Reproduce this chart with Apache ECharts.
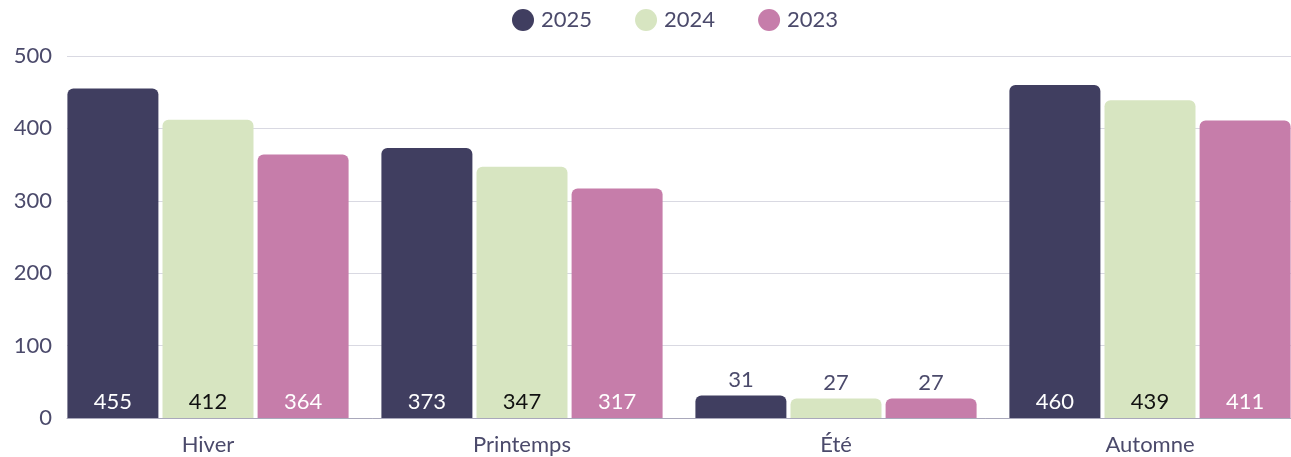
<!DOCTYPE html>
<html>
<head>
<meta charset="utf-8">
<script src="https://cdn.jsdelivr.net/npm/echarts@6/dist/echarts.min.js"></script>
<style>
  html, body { margin: 0; padding: 0; background: #fff; }
  #chart { width: 1291px; height: 457px; }
</style>
</head>
<body>
<div id="chart"></div>
<script>
var categories = ['Hiver', 'Printemps', 'Été', 'Automne'];
var years = ['2025', '2024', '2023'];
var values2025 = [455, 373, 31, 460];
var values2024 = [412, 347, 27, 439];
var values2023 = [364, 317, 27, 411];
var yTicks = [0, 100, 200, 300, 400, 500];

var colors = ['#403e60', '#d7e5c1', '#c67daa'];
var labelColors = ['#ffffff', '#111111', '#ffffff'];
var textColor = '#4b4a6b';
var font = 'Lato, "Noto Sans", sans-serif';

// petites barres : étiquette au-dessus, sinon à l'intérieur en bas
function buildData(values, idx) {
  return values.map(function (v) {
    if (v < 100) {
      return { value: v, label: { position: 'top', distance: 5, color: textColor } };
    }
    return { value: v, label: { position: 'insideBottom', distance: 5, color: labelColors[idx] } };
  });
}

var seriesValues = [values2025, values2024, values2023];

var chart = echarts.init(document.getElementById('chart'));
chart.setOption({
  animation: false,
  color: colors,
  textStyle: { fontFamily: font },
  legend: {
    top: 4,
    left: 507,
    icon: 'circle',
    itemWidth: 22,
    itemHeight: 22,
    itemGap: 43,
    textStyle: { fontSize: 22, color: textColor, fontFamily: font, padding: [0, 0, 0, 2] },
    data: years
  },
  grid: [
    { left: 67, right: 0, top: 56, bottom: 39, outerBoundsMode: 'none' },
    { left: 51, width: 1256, top: 56, bottom: 39, outerBoundsMode: 'none' }
  ],
  xAxis: [
    {
      gridIndex: 0,
      type: 'category',
      data: categories,
      axisLine: { show: true, lineStyle: { color: '#a9a8bb', width: 1 } },
      axisTick: { show: false },
      axisLabel: { show: false }
    },
    {
      gridIndex: 1,
      type: 'category',
      data: categories,
      axisLine: { show: false },
      axisTick: { show: false },
      axisLabel: { fontSize: 22, color: textColor, margin: 16, fontFamily: font }
    }
  ],
  yAxis: [
    {
      gridIndex: 0,
      type: 'value',
      min: yTicks[0],
      max: yTicks[yTicks.length - 1],
      interval: 100,
      axisLabel: { fontSize: 22, color: textColor, margin: 15, fontFamily: font },
      splitLine: { lineStyle: { color: '#d9d9e2' } }
    },
    {
      gridIndex: 1,
      type: 'value',
      min: yTicks[0],
      max: yTicks[yTicks.length - 1],
      interval: 100,
      show: false,
      splitLine: { show: false }
    }
  ],
  series: years.map(function (y, i) {
    return {
      name: y,
      type: 'bar',
      xAxisIndex: 1,
      yAxisIndex: 1,
      barWidth: 91,
      barGap: '4.5%',
      itemStyle: { borderRadius: [6, 6, 0, 0] },
      label: { show: true, fontSize: 22, fontFamily: font },
      data: buildData(seriesValues[i], i)
    };
  })
});
</script>
</body>
</html>
